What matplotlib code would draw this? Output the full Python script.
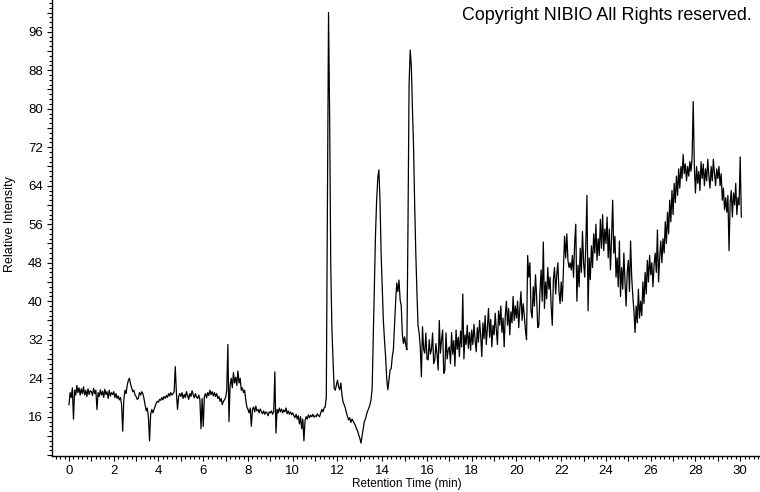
import numpy as np
import matplotlib
matplotlib.use('Agg')
import matplotlib.pyplot as plt
from matplotlib.ticker import MultipleLocator, FuncFormatter

# scan interval of the detector trace (min)
scan_step = 0.05

# relative intensity, one row per minute (20 scans each)
intensity = [
    # 0
    18.5, 21.0, 20.0, 22.0, 15.5, 21.5, 20.5, 22.5, 21.0, 22.0, 20.5, 21.8, 20.8, 22.2, 20.5, 21.5, 20.2, 21.8, 20.6, 21.4,
    # 1
    21.2, 20.4, 21.9, 20.8, 21.5, 17.5, 21.0, 20.2, 21.6, 20.5, 21.3, 20.0, 21.7, 20.6, 21.2, 19.8, 21.5, 20.3, 21.0, 20.6,
    # 2
    21.2, 20.0, 20.8, 19.8, 20.3, 19.5, 20.0, 18.5, 13.0, 19.5, 21.5, 20.8, 22.5, 23.5, 24.0, 22.8, 22.0, 21.2, 21.5, 20.5,
    # 3
    20.2, 19.6, 19.8, 21.0, 20.5, 21.2, 20.8, 19.8, 18.5, 17.2, 17.8, 15.8, 11.0, 16.5, 17.5, 16.8, 17.5, 18.2, 18.8, 19.2,
    # 4
    19.0, 19.6, 19.4, 20.0, 19.5, 20.2, 19.8, 20.4, 20.0, 20.8, 20.3, 21.0, 20.5, 20.8, 21.2, 26.4, 21.0, 17.5, 20.2, 20.8,
    # 5
    20.2, 21.0, 19.8, 20.6, 20.0, 21.2, 20.4, 19.6, 20.8, 20.2, 21.4, 20.6, 19.9, 20.8, 20.1, 19.8, 20.5, 19.6, 13.5, 19.8,
    # 6
    14.0, 20.2, 20.8, 19.9, 21.0, 20.4, 21.5, 20.6, 21.2, 20.3, 21.0, 20.2, 20.8, 19.8, 20.2, 19.2, 19.8, 18.5, 19.2, 19.5,
    # 7
    20.0, 21.5, 31.0, 15.0, 22.5, 24.0, 22.0, 25.2, 23.0, 24.2, 22.5, 25.5, 23.0, 24.0, 21.5, 22.0, 21.0, 21.5, 19.5, 18.0,
    # 8
    17.5, 16.8, 17.8, 14.0, 17.5, 18.0, 17.0, 18.2, 17.2, 17.5, 16.8, 17.6, 17.0, 16.6, 17.2, 16.5, 17.0, 16.8, 16.2, 17.0,
    # 9
    16.8, 17.2, 16.5, 17.0, 25.3, 12.6, 17.5, 16.8, 17.8, 17.0, 17.6, 16.8, 17.4, 17.0, 17.8, 16.6, 17.2, 16.5, 17.0, 16.4,
    # 10
    16.8, 16.2, 15.8, 16.5, 15.5, 16.2, 14.5, 16.0, 13.5, 15.5, 11.0, 15.2, 16.0, 15.5, 16.4, 15.8, 16.3, 16.0, 16.5, 15.9,
    # 11
    16.2, 16.0, 16.6, 16.2, 16.0, 16.8, 17.5, 17.0, 17.8, 18.0, 20.0, 62.0, 100.0, 78.0, 47.0, 34.5, 27.8, 22.0, 21.5, 22.5,
    # 12
    23.6, 22.2, 21.6, 23.0, 20.5, 19.0, 18.5, 17.8, 16.8, 16.0, 15.3, 15.8, 14.8, 15.5, 15.1, 14.6, 14.2, 13.5, 13.0, 12.2,
    # 13
    11.5, 10.5, 12.0, 13.5, 15.0, 15.5, 16.5, 17.2, 17.8, 18.5, 19.5, 22.0, 33.0, 45.0, 54.0, 61.0, 65.5, 67.3, 61.0, 50.0,
    # 14
    43.0, 36.0, 32.0, 28.5, 24.0, 21.6, 23.5, 25.7, 26.0, 28.5, 30.0, 35.0, 40.0, 43.8, 42.0, 44.4, 40.3, 39.0, 33.0, 31.2,
    # 15
    32.6, 31.0, 29.9, 55.0, 85.0, 92.2, 89.0, 80.0, 72.0, 60.0, 50.0, 42.0, 35.0, 33.4, 30.5, 24.3, 34.7, 30.0, 29.2, 33.4,
    # 16
    28.0, 27.8, 32.0, 29.0, 29.9, 33.4, 27.0, 27.8, 31.2, 29.0, 25.7, 36.0, 29.2, 32.0, 34.0, 25.0, 25.7, 33.4, 28.0, 29.9,
    # 17
    30.5, 27.0, 33.5, 29.0, 31.8, 26.5, 34.0, 30.0, 32.5, 28.5, 33.8, 30.5, 41.5, 28.0, 33.0, 31.0, 35.0, 30.2, 33.5, 29.8,
    # 18
    34.0, 31.0, 35.2, 32.0, 29.5, 34.5, 31.5, 36.0, 33.0, 28.5, 35.5, 32.2, 37.0, 31.0, 34.5, 38.5, 32.5, 36.2, 30.5, 35.0,
    # 19
    33.0, 37.5, 34.0, 31.0, 38.0, 35.0, 39.0, 33.5, 36.5, 30.5, 37.0, 40.0, 35.0, 38.5, 33.0, 37.8, 35.5, 41.0, 36.0, 39.0,
    # 20
    36.5, 40.0, 34.5, 38.5, 42.0, 36.0, 39.5, 37.0, 34.0, 32.0, 49.5, 45.0, 48.0, 38.0, 36.5, 43.0, 39.0, 45.5, 41.0, 34.5,
    # 21
    35.0, 42.0, 46.5, 40.0, 52.3, 38.5, 44.0, 40.5, 47.0, 42.5, 45.0, 39.0, 35.0, 44.5, 47.0, 41.5, 45.5, 48.0, 42.0, 39.5,
    # 22
    44.0, 40.0, 46.5, 53.5, 49.0, 54.0, 48.5, 47.0, 48.0, 46.5, 49.5, 45.0, 52.0, 56.0, 40.0, 47.5, 43.0, 51.0, 46.0, 54.5,
    # 23
    48.0, 45.0, 52.0, 62.0, 38.0, 49.0, 44.5, 51.5, 47.0, 54.0, 50.0, 56.0, 48.5, 53.0, 49.5, 57.0, 51.0, 58.0, 50.5, 55.0,
    # 24
    52.0, 57.5, 49.0, 55.0, 46.5, 53.0, 61.0, 50.0, 53.5, 45.0, 49.0, 43.0, 52.5, 41.0, 47.0, 42.5, 50.0, 44.0, 39.0, 46.0,
    # 25
    48.5, 42.0, 52.5, 45.0, 41.0, 38.0, 33.5, 39.0, 35.5, 42.5, 36.5, 40.0, 37.0, 44.0, 39.5, 46.0, 41.5, 48.5, 44.0, 49.5,
    # 26
    45.5, 48.0, 43.0, 47.5, 50.0, 46.0, 54.8, 44.0, 49.0, 52.5, 48.0, 53.0, 50.0, 56.5, 52.0, 58.5, 54.0, 61.0, 56.5, 63.0,
    # 27
    58.0, 64.5, 60.5, 66.0, 62.0, 67.5, 63.5, 68.0, 65.5, 70.5, 66.5, 68.5, 65.0, 68.0, 66.0, 69.0, 67.0, 70.0, 81.5, 68.0,
    # 28
    62.5, 68.0, 64.5, 67.0, 63.0, 69.0, 65.5, 68.5, 64.0, 67.5, 65.0, 69.5, 66.0, 63.5, 68.0, 65.0, 69.5, 66.5, 64.0, 67.5,
    # 29
    65.5, 68.0, 64.0, 66.5, 61.0, 63.5, 59.0, 61.5, 58.5, 62.0, 50.5, 60.5, 63.0, 57.5, 62.5, 60.0, 64.5, 58.0, 61.5, 60.0,
    # 30
    70.0, 57.5,
]

retention_time = np.arange(len(intensity)) * scan_step

x_label = 'Retention Time (min)'
y_label = 'Relative Intensity'
copyright_text = 'Copyright NIBIO All Rights reserved.'

tick_font = ['Liberation Sans Narrow', 'Liberation Sans', 'DejaVu Sans']
plt.rcParams['font.family'] = ['Liberation Sans', 'DejaVu Sans']

fig = plt.figure(figsize=(7.6, 4.92), dpi=100)
ax = fig.add_axes([52 / 760, 36 / 492, 707 / 760, 456 / 492])

ax.plot(retention_time, intensity, color='black', lw=0.9)

ax.set_xlim(-0.76, 30.84)
ax.set_ylim(7.83, 102.6)

for side in ('top', 'right'):
    ax.spines[side].set_visible(False)
for side in ('left', 'bottom'):
    ax.spines[side].set_linewidth(1.0)

ax.xaxis.set_major_locator(MultipleLocator(1))
ax.xaxis.set_minor_locator(MultipleLocator(0.2))
ax.xaxis.set_major_formatter(FuncFormatter(lambda v, p: '%d' % v if round(v) % 2 == 0 else ''))
ax.yaxis.set_major_locator(MultipleLocator(4))
ax.yaxis.set_minor_locator(MultipleLocator(1))
ax.yaxis.set_major_formatter(FuncFormatter(lambda v, p: '%d' % v if round(v) % 8 == 0 and v >= 16 else ''))

ax.tick_params(which='major', direction='out', length=3.6, width=0.8, labelsize=9.5, pad=3, colors='black')
ax.tick_params(which='minor', direction='out', length=2.0, width=0.8)
for lab in ax.get_xticklabels() + ax.get_yticklabels():
    lab.set_family(tick_font)

ax.set_xlabel(x_label, fontsize=8.5, labelpad=0)
ax.xaxis.set_label_coords((407 - 52) / 707, -22 / 456)
ax.set_ylabel(y_label, fontsize=9, labelpad=2)
ax.yaxis.set_label_coords(-(52 - 16) / 707, (456 - 224) / 456)

fig.text(752 / 760, 1 - 20 / 492, copyright_text, ha='right', va='baseline', fontsize=12.9)

plt.savefig('out.png', dpi=100)
